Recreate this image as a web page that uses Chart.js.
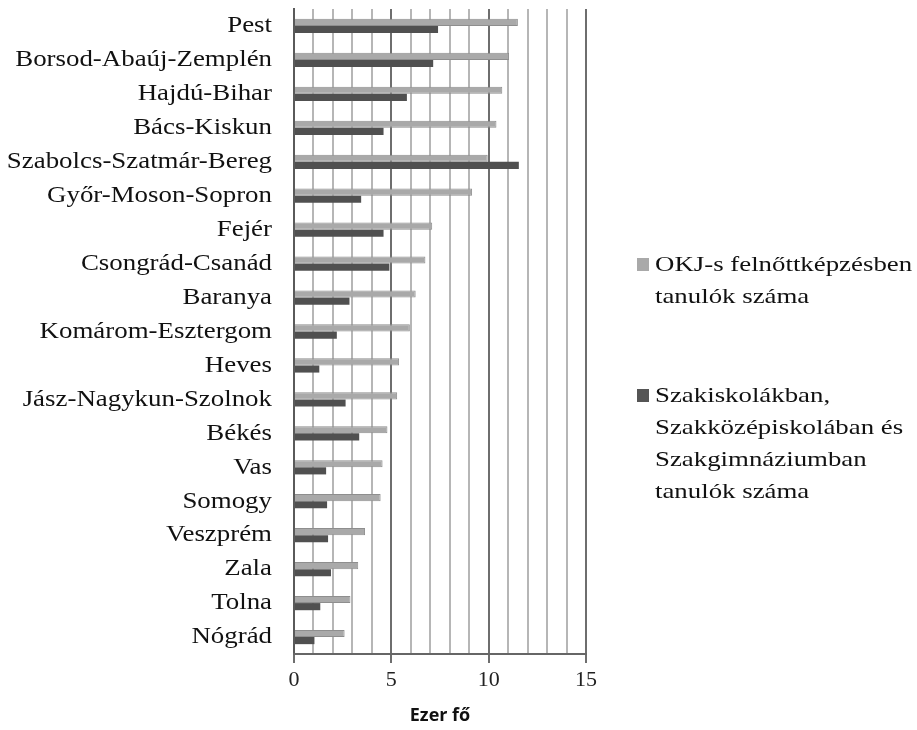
<!DOCTYPE html>
<html>
<head>
<meta charset="utf-8">
<script src="https://cdn.jsdelivr.net/npm/chart.js@4.4.1/dist/chart.umd.min.js"></script>
<style>
  html, body { margin: 0; padding: 0; background: #fff; }
  #wrap { position: relative; width: 917px; height: 730px; }
  .legend-item {
    position: absolute;
    left: 637px;
    font-family: "Liberation Serif", "Times New Roman", serif;
    font-size: 22px;
    line-height: 32px;
    color: #111;
    white-space: nowrap;
  }
  .legend-item .box {
    position: absolute;
    left: 0;
    top: 10px;
    width: 12px;
    height: 13px;
  }
  /* the original is stretched sideways, so the legend text is too */
  .legend-item .txt {
    display: block;
    margin-left: 18px;
    transform: scaleX(1.22);
    transform-origin: 0 0;
  }
</style>
</head>
<body>
<div id="wrap">
  <canvas id="chart" width="917" height="730"></canvas>
  <div class="legend-item" style="top:248px"><span class="box" style="background:#a9a9a9"></span><span class="txt">OKJ-s felnőttképzésben<br>tanulók száma</span></div>
  <div class="legend-item" style="top:379px"><span class="box" style="background:#555"></span><span class="txt">Szakiskolákban,<br>Szakközépiskolában és<br>Szakgimnáziumban<br>tanulók száma</span></div>
</div>
<script>
// megyék, felülről lefelé
const counties = [
  "Pest", "Borsod-Abaúj-Zemplén", "Hajdú-Bihar", "Bács-Kiskun",
  "Szabolcs-Szatmár-Bereg", "Győr-Moson-Sopron", "Fejér", "Csongrád-Csanád",
  "Baranya", "Komárom-Esztergom", "Heves", "Jász-Nagykun-Szolnok", "Békés",
  "Vas", "Somogy", "Veszprém", "Zala", "Tolna", "Nógrád"
];

// ezer fő
const okjValues = [11.5, 11.05, 10.7, 10.4, 9.95, 9.15, 7.1, 6.75, 6.25, 5.95, 5.4, 5.3, 4.8, 4.55, 4.45, 3.65, 3.3, 2.9, 2.6];
const szakValues = [7.4, 7.15, 5.8, 4.6, 11.55, 3.45, 4.6, 4.9, 2.85, 2.2, 1.3, 2.65, 3.35, 1.65, 1.7, 1.75, 1.9, 1.35, 1.05];

const xTickLabels = [0, 5, 10, 15];

const seriesNames = [
  "OKJ-s felnőttképzésben tanulók száma",
  "Szakiskolákban, Szakközépiskolában és Szakgimnáziumban tanulók száma"
];

const serif = "'Liberation Serif', 'Times New Roman', serif";
const Y_STRETCH = 1.12;

// stretch the county labels sideways around their right edge
const stretchYLabels = {
  id: "stretchYLabels",
  beforeDraw(chart) {
    const s = chart.scales.y;
    if (s._stretched) return;
    const orig = s.drawLabels.bind(s);
    s.drawLabels = function (area) {
      const ctx = this.ctx;
      const x0 = this.right - this.options.ticks.padding;
      ctx.save();
      ctx.translate(x0, 0);
      ctx.scale(Y_STRETCH, 1);
      ctx.translate(-x0, 0);
      orig(area);
      ctx.restore();
    };
    s._stretched = true;
  },
};

new Chart(document.getElementById("chart"), {
  type: "bar",
  data: {
    labels: counties,
    datasets: [
      {
        label: seriesNames[0],
        data: okjValues,
        backgroundColor: "#a9a9a9",
        borderColor: "#8e8e8e",
        borderWidth: 1,
        categoryPercentage: 0.42,
        barPercentage: 1.0,
      },
      {
        label: seriesNames[1],
        data: szakValues,
        backgroundColor: "#505050",
        borderColor: "#505050",
        borderWidth: 0,
        categoryPercentage: 0.42,
        barPercentage: 1.0,
      },
    ],
  },
  plugins: [stretchYLabels],
  options: {
    indexAxis: "y",
    responsive: false,
    animation: false,
    layout: { padding: { top: 9, right: 331, left: 0, bottom: 0 } },
    plugins: {
      legend: { display: false },
      tooltip: { enabled: false },
    },
    scales: {
      y: {
        afterFit: (scale) => {
          scale.width = 294;
          scale.paddingTop = 0;
          scale.paddingBottom = 0;
        },
        grid: { display: false, drawTicks: false, tickLength: 0 },
        border: { display: true, color: "#5a5a5a", width: 2 },
        ticks: {
          padding: 22,
          color: "#111",
          font: { family: serif, size: 24 },
          autoSkip: false,
        },
      },
      x: {
        min: 0,
        max: 15,
        afterFit: (scale) => { scale.height = 76; },
        border: { display: true, color: "#666", width: 2 },
        grid: {
          color: (ctx) => (xTickLabels.includes(ctx.tick?.value) ? "#6e6e6e" : "#b6b6b6"),
          tickColor: (ctx) => (xTickLabels.includes(ctx.tick?.value) ? "#6e6e6e" : "rgba(0,0,0,0)"),
          lineWidth: 2,
          tickLength: 9,
        },
        ticks: {
          stepSize: 1,
          autoSkip: false,
          maxRotation: 0,
          padding: 4,
          color: "#222",
          font: { family: serif, size: 22 },
          callback: (v) => (xTickLabels.includes(v) ? String(v) : ""),
        },
        title: {
          display: true,
          text: "Ezer fő",
          color: "#111",
          font: { family: "'Open Sans', 'DejaVu Sans', sans-serif", size: 18, weight: "bold" },
          padding: { top: 0, bottom: 3 },
        },
      },
    },
  },
});
</script>
</body>
</html>
